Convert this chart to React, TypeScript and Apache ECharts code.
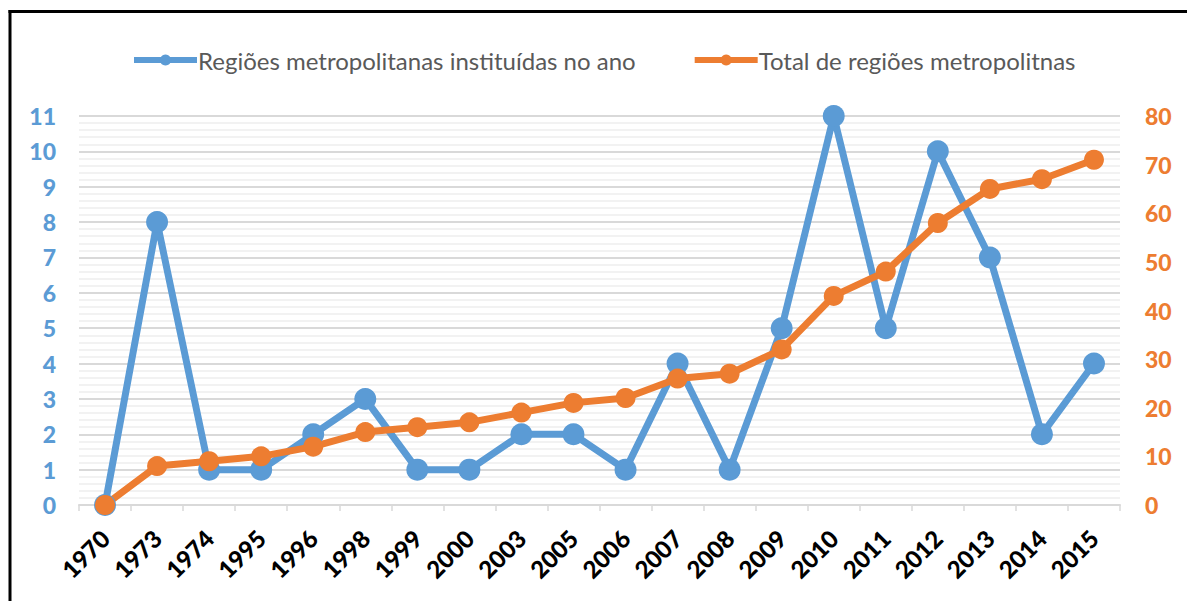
import React, { useEffect, useRef } from "react";
import * as echarts from "echarts";

const years = ["1970", "1973", "1974", "1995", "1996", "1998", "1999", "2000", "2003", "2005", "2006", "2007", "2008", "2009", "2010", "2011", "2012", "2013", "2014", "2015"];
const instituted = [0, 8, 1, 1, 2, 3, 1, 1, 2, 2, 1, 4, 1, 5, 11, 5, 10, 7, 2, 4];
const total = [0, 8, 9, 10, 12, 15, 16, 17, 19, 21, 22, 26, 27, 32, 43, 48, 58, 65, 67, 71];
const seriesNames = ["Regiões metropolitanas instituídas no ano", "Total de regiões metropolitnas"];

const BLUE = "#5B9BD5";
const ORANGE = "#ED7D31";

export default function App() {
  const ref = useRef<HTMLDivElement>(null);
  useEffect(() => {
    if (!ref.current) return;
    const chart = echarts.init(ref.current, null, { renderer: "svg" });
    chart.setOption({
      animation: false,
      backgroundColor: "#ffffff",
      grid: { left: 79, right: 67, top: 116, bottom: 96, containLabel: false, outerBoundsMode: "none" },
      legend: {
        top: 43,
        left: 126,
        itemWidth: 63,
        itemHeight: 14,
        itemGap: 56,
        lineStyle: { width: 6 },
        textStyle: { fontFamily: "Lato", fontSize: 24, color: "#595959", padding: [0, 0, 0, -4] },
        data: seriesNames,
      },
      xAxis: {
        type: "category",
        data: years,
        boundaryGap: true,
        axisLine: { lineStyle: { color: "#d9d9d9", width: 2 } },
        axisTick: { show: true, length: 6, lineStyle: { color: "#d9d9d9", width: 1.5 } },
        axisLabel: {
          rotate: 45,
          interval: 0,
          margin: 29,
          fontFamily: "Lato",
          fontWeight: 900,
          fontSize: 24,
          color: "#000000",
        },
      },
      yAxis: [
        {
          type: "value",
          min: 0,
          max: 11,
          interval: 1,
          axisLine: { show: false },
          axisTick: { show: false },
          axisLabel: { fontFamily: "Lato", fontWeight: 900, fontSize: 23, color: BLUE, margin: 23 },
          splitLine: { show: true, lineStyle: { color: "#d9d9d9", width: 2 } },
          minorTick: { show: false, splitNumber: 5 },
          minorSplitLine: { show: true, lineStyle: { color: "#eeeeee", width: 1.5 } },
        },
        {
          type: "value",
          min: 0,
          max: 80,
          interval: 10,
          position: "right",
          axisLine: { show: false },
          axisTick: { show: false },
          splitLine: { show: false },
          axisLabel: { fontFamily: "Lato", fontWeight: 900, fontSize: 23, color: ORANGE, margin: 25 },
        },
      ],
      series: [
        {
          name: seriesNames[0],
          type: "line",
          yAxisIndex: 0,
          data: instituted,
          symbol: "circle",
          symbolSize: 22,
          lineStyle: { color: BLUE, width: 7 },
          itemStyle: { color: BLUE },
        },
        {
          name: seriesNames[1],
          type: "line",
          yAxisIndex: 1,
          data: total,
          symbol: "circle",
          symbolSize: 20,
          lineStyle: { color: ORANGE, width: 7 },
          itemStyle: { color: ORANGE },
        },
      ],
      graphic: [
        { type: "line", shape: { x1: 8.5, y1: 11.5, x2: 1187, y2: 11.5 }, style: { stroke: "#000", lineWidth: 3 } },
        { type: "line", shape: { x1: 10, y1: 10, x2: 10, y2: 601 }, style: { stroke: "#000", lineWidth: 3 } },
      ],
    });
    return () => chart.dispose();
  }, []);
  return (
    <div
      ref={ref}
      style={{ position: "fixed", left: 0, top: 0, width: 1187, height: 601 }}
    />
  );
}
